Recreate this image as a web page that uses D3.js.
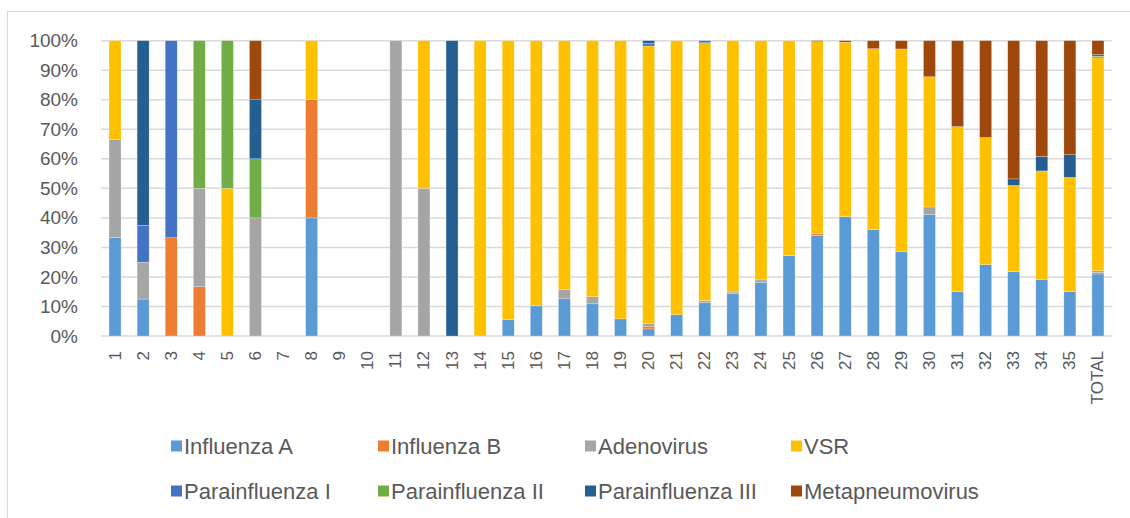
<!DOCTYPE html>
<html>
<head>
<meta charset="utf-8">
<script src="https://cdn.jsdelivr.net/npm/d3@7"></script>
<style>
  html, body { margin: 0; padding: 0; background: #fff; }
  svg { display: block; font-family: "Liberation Sans", Arial, sans-serif; }
</style>
</head>
<body>
<svg id="chart" width="1130" height="518"></svg>
<script>
const categories = ["1","2","3","4","5","6","7","8","9","10","11","12","13","14","15","16","17","18","19","20","21","22","23","24","25","26","27","28","29","30","31","32","33","34","35","TOTAL"];
const seriesNames = ["Influenza A","Influenza B","Adenovirus","VSR","Parainfluenza I","Parainfluenza II","Parainfluenza III","Metapneumovirus"];
const seriesColors = ["#5B9BD5","#ED7D31","#A5A5A5","#FFC000","#4472C4","#70AD47","#255E91","#9E480E"];

const influenzaA     = [33.3,12.5,0,0,0,0,0,40,0,0,0,0,0,0,5.5,10.2,12.6,10.9,5.8,2.4,7.2,11.3,14.3,18.2,27.2,34.1,40.4,36.0,28.5,41.1,15.1,24.2,21.8,19.2,15.0,21.0];
const influenzaB     = [0,0,33.3,16.7,0,0,0,40,0,0,0,0,0,0,0,0,0,0,0,0.9,0,0,0,0,0,0.5,0,0,0,0,0,0,0,0,0,0.5];
const adenovirus     = [33.3,12.5,0,33.3,0,40,0,0,0,0,100,50,0,0,0,0,3.2,2.4,0,1.0,0,0.7,0.6,0.8,0,0,0,0,0,2.6,0,0,0,0,0,0.6];
const vsr            = [33.4,0,0,0,50,0,0,20,0,0,0,50,0,100,94.5,89.8,84.2,86.7,94.2,93.9,92.8,87.3,85.1,81.0,72.8,65.1,59.1,61.3,68.7,44.1,55.8,43.0,29.2,36.7,38.7,72.1];
const parainfluenza1 = [0,12.5,66.7,0,0,0,0,0,0,0,0,0,0,0,0,0,0,0,0,0.9,0,0.7,0,0,0,0,0,0,0,0,0,0,0,0,0,0.4];
const parainfluenza2 = [0,0,0,50,50,20,0,0,0,0,0,0,0,0,0,0,0,0,0,0,0,0,0,0,0,0,0,0,0,0,0,0,0,0,0,0.2];
const parainfluenza3 = [0,62.5,0,0,0,20,0,0,0,0,0,0,100,0,0,0,0,0,0,0.9,0,0,0,0,0,0,0,0,0,0,0,0,2.2,4.9,7.7,0.5];
const metapneumo     = [0,0,0,0,0,20,0,0,0,0,0,0,0,0,0,0,0,0,0,0,0,0,0,0,0,0.3,0.5,2.7,2.8,12.2,29.1,32.8,46.8,39.2,38.6,4.7];
const yTicks = [0,10,20,30,40,50,60,70,80,90,100];

const seriesValues = [influenzaA,influenzaB,adenovirus,vsr,parainfluenza1,parainfluenza2,parainfluenza3,metapneumo];

const table = categories.map((c, i) => {
  const row = { cat: c };
  seriesNames.forEach((s, k) => { row[s] = seriesValues[k][i]; });
  return row;
});

const svg = d3.select("#chart");
const textColor = "#595959";
const gridColor = "#D9D9D9";

// outer chart border (extends past right/bottom edges)
svg.append("rect")
  .attr("x", 7.5).attr("y", 11.5)
  .attr("width", 1200).attr("height", 600)
  .attr("fill", "none").attr("stroke", gridColor).attr("stroke-width", 1);

const x = d3.scaleBand().domain(categories).range([101, 1112])
  .paddingInner(0.573).paddingOuter(0.2865);
const y = d3.scaleLinear().domain([0, 100]).range([336, 40.7]);

// gridlines
svg.append("g").selectAll("line").data(yTicks).join("line")
  .attr("x1", 101).attr("x2", 1112)
  .attr("y1", d => y(d)).attr("y2", d => y(d))
  .attr("stroke", gridColor).attr("stroke-width", 1.5);

// y axis labels
const yAxis = d3.axisLeft(y).tickValues(yTicks).tickFormat(d => d + "%").tickSize(0).tickPadding(0);
const gy = svg.append("g").attr("transform", "translate(78,0)").call(yAxis);
gy.select(".domain").remove();
gy.selectAll("text").attr("fill", textColor).attr("font-size", 19)
  .attr("font-family", "Liberation Sans, Arial, sans-serif");

// stacked bars
const stack = d3.stack().keys(seriesNames);
const layers = stack(table);
svg.append("g").selectAll("g").data(layers).join("g")
  .attr("fill", (d, i) => seriesColors[i])
  .selectAll("rect").data(d => d.filter(p => p[1] - p[0] > 0)).join("rect")
  .attr("x", d => x(d.data.cat))
  .attr("width", x.bandwidth())
  .attr("y", d => y(d[1]))
  .attr("height", d => y(d[0]) - y(d[1]))
  .attr("stroke", "#fff").attr("stroke-width", 0.5).attr("stroke-opacity", 0.5);

// x axis labels (rotated)
const xAxis = d3.axisBottom(x).tickSize(0).tickPadding(0);
const gx = svg.append("g").attr("transform", "translate(0,336)").call(xAxis);
gx.select(".domain").remove();
gx.selectAll("text")
  .attr("fill", textColor).attr("font-size", 17)
  .attr("font-family", "Liberation Sans, Arial, sans-serif")
  .attr("text-anchor", "end")
  .attr("dy", null)
  .attr("dominant-baseline", "central")
  .attr("transform", "translate(0,15) rotate(-90)")
  .attr("x", 0).attr("y", 0);

// legend
const legendX = [171, 378, 585, 791];
const legendY = [446, 491];
const legend = svg.append("g").selectAll("g").data(seriesNames).join("g")
  .attr("transform", (d, i) => `translate(${legendX[i % 4]},${legendY[Math.floor(i / 4)]})`);
legend.append("rect").attr("x", 0).attr("y", -5.5).attr("width", 11).attr("height", 11)
  .attr("fill", (d, i) => seriesColors[i]);
legend.append("text").attr("x", 13).attr("y", 0).attr("dy", "0.35em")
  .attr("fill", textColor).attr("font-size", 22)
  .text(d => d);
</script>
</body>
</html>
